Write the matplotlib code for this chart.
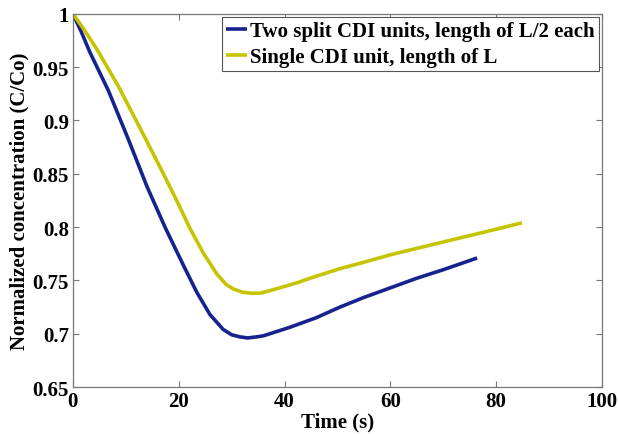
import matplotlib
matplotlib.use("Agg")
import matplotlib.pyplot as plt
from matplotlib.ticker import FuncFormatter

# Data
split_t = [0, 1.5, 3.2, 6.7, 10.5, 14, 17.4, 20.9, 23.4, 25.9, 28.4, 30, 31.6,
           33, 34.7, 36, 38.5, 41, 46, 50.5, 55, 60, 65, 70, 76.4]
split_c = [1.0, 0.984, 0.964, 0.928, 0.882, 0.838, 0.800, 0.764, 0.739, 0.718,
           0.704, 0.699, 0.697, 0.696, 0.697, 0.698, 0.702, 0.706, 0.715,
           0.725, 0.734, 0.743, 0.752, 0.760, 0.771]

single_t = [0, 2, 4.5, 8.6, 13.6, 17, 19.9, 22.1, 24.6, 27.2, 29, 30.3, 32,
            33.5, 35.5, 39.1, 42.5, 45.4, 50.5, 55, 60, 65, 70, 75, 80, 84.9]
single_c = [1.0, 0.986, 0.967, 0.932, 0.884, 0.851, 0.822, 0.799, 0.776, 0.756,
            0.746, 0.742, 0.739, 0.738, 0.738, 0.743, 0.748, 0.753, 0.761,
            0.767, 0.774, 0.780, 0.786, 0.792, 0.798, 0.804]

labels = ["Two split CDI units, length of L/2 each", "Single CDI unit, length of L"]
colors = ["#16238f", "#c6c400"]
x_ticks = [0, 20, 40, 60, 80, 100]
y_ticks = [0.65, 0.7, 0.75, 0.8, 0.85, 0.9, 0.95, 1.0]

plt.rcParams["font.family"] = ["Liberation Serif", "DejaVu Serif"]
plt.rcParams["font.weight"] = "bold"

fig = plt.figure(figsize=(6.18, 4.35), dpi=100)
ax = fig.add_axes([0.118, 0.108, 0.856, 0.858])

ax.plot(split_t, split_c, color=colors[0], lw=2.6, label=labels[0],
        solid_joinstyle="round", solid_capstyle="butt")
ax.plot(single_t, single_c, color=colors[1], lw=2.6, label=labels[1],
        solid_joinstyle="round", solid_capstyle="butt")

ax.set_xlim(0, 100)
ax.set_ylim(0.65, 1.0)
ax.set_xticks(x_ticks)
ax.set_yticks(y_ticks)
ax.yaxis.set_major_formatter(FuncFormatter(lambda v, p: f"{v:g}"))
ax.tick_params(direction="in", top=True, right=True, length=4, width=0.8,
               color="#777777", labelsize=15, pad=3)
for lab in ax.get_xticklabels() + ax.get_yticklabels():
    lab.set_fontweight("bold")
for s in ax.spines.values():
    s.set_color("#777777")
    s.set_linewidth(0.9)

ax.set_xlabel("Time (s)", fontsize=15, fontweight="bold", labelpad=0)
ax.set_ylabel("Normalized concentration (C/Co)", fontsize=15, fontweight="bold", labelpad=2)

leg = ax.legend(loc="upper right", prop={"size": 15, "weight": "bold"},
                handlelength=1.0, handletextpad=0.15, borderpad=0.2,
                labelspacing=0.3, fancybox=False, framealpha=1,
                borderaxespad=0.15)
leg.get_frame().set_edgecolor("#555555")
leg.get_frame().set_linewidth(0.8)

fig.savefig("out.png", dpi=100)
